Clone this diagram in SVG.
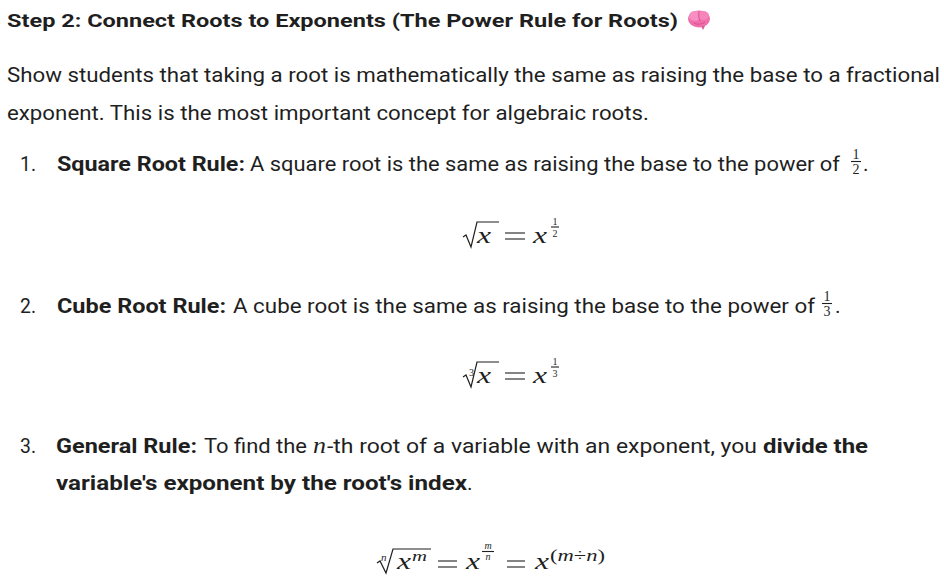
<svg xmlns="http://www.w3.org/2000/svg" width="944" height="586" viewBox="0 0 944 586">
<style>
text{fill:#1f1f1f}
.t{font-family:Roboto,"Liberation Sans",sans-serif;font-size:21px}
.b{font-family:Roboto,"Liberation Sans",sans-serif;font-size:21px;font-weight:700}
.h{font-family:Roboto,"Liberation Sans",sans-serif;font-size:19px;font-weight:700}
.mi{font-family:"Liberation Serif","DejaVu Serif",serif;font-style:italic;font-size:24px}
.mis{font-family:"Liberation Serif","DejaVu Serif",serif;font-style:italic}
.mn{font-family:"Liberation Serif","DejaVu Serif",serif;font-size:14px}
.ms{font-family:"Liberation Serif","DejaVu Serif",serif;font-size:10px}
.ln{stroke:#1f1f1f;stroke-width:1.1;fill:none}
.rad{stroke:#1f1f1f;stroke-width:1.2;fill:none;stroke-linejoin:miter}
</style>
<rect width="944" height="586" fill="#ffffff"/>

<g id="title">
<text class="h" x="7" y="27" textLength="671" lengthAdjust="spacingAndGlyphs">Step 2: Connect Roots to Exponents (The Power Rule for Roots)</text>
<g id="brain-emoji">
<ellipse cx="699" cy="19" rx="11" ry="8.5" fill="#f06eaa"/>
<ellipse cx="695" cy="16" rx="6" ry="5" fill="#f78fc3"/>
<ellipse cx="703" cy="15.5" rx="6" ry="4.5" fill="#f585bb"/>
<path d="M694,23 Q699,26 705,22" stroke="#d94f91" stroke-width="1" fill="none"/>
<path d="M699,12 Q698,17 700,21" stroke="#d94f91" stroke-width="0.9" fill="none"/>
<path d="M701,26 L703,30 L705,26 Z" fill="#e05a9c"/>
</g>
</g>

<g id="intro">
<text class="t" x="7" y="82" textLength="933" lengthAdjust="spacingAndGlyphs">Show students that taking a root is mathematically the same as raising the base to a fractional</text>
<text class="t" x="7" y="120" textLength="642" lengthAdjust="spacingAndGlyphs">exponent. This is the most important concept for algebraic roots.</text>
</g>

<g id="item-1">
<text class="t" x="20" y="171" textLength="16" lengthAdjust="spacingAndGlyphs">1.</text>
<text class="b" x="57" y="171" textLength="188" lengthAdjust="spacingAndGlyphs">Square Root Rule:</text>
<text class="t" x="250" y="171" textLength="590" lengthAdjust="spacingAndGlyphs">A square root is the same as raising the base to the power of</text>
<text class="mn" x="856" y="159" text-anchor="middle">1</text>
<line class="ln" x1="851" y1="161.5" x2="861" y2="161.5"/>
<text class="mn" x="856" y="174" text-anchor="middle">2</text>
<text class="t" x="863" y="171">.</text>
</g>

<g id="formula-1">
<path class="rad" d="M463,237 L466,235 L471,247 L477,222 L499,222"/>
<text class="mi" x="477" y="243" textLength="14" lengthAdjust="spacingAndGlyphs">x</text>
<line class="ln" x1="505" y1="233" x2="525" y2="233"/>
<line class="ln" x1="505" y1="239" x2="525" y2="239"/>
<text class="mi" x="533" y="243" textLength="14" lengthAdjust="spacingAndGlyphs">x</text>
<text class="ms" x="555" y="224.5" text-anchor="middle">1</text>
<line class="ln" x1="551" y1="227" x2="559" y2="227"/>
<text class="ms" x="555" y="236.5" text-anchor="middle">2</text>
</g>

<g id="item-2">
<text class="t" x="20" y="313" textLength="16" lengthAdjust="spacingAndGlyphs">2.</text>
<text class="b" x="57" y="313" textLength="169" lengthAdjust="spacingAndGlyphs">Cube Root Rule:</text>
<text class="t" x="233" y="313" textLength="582" lengthAdjust="spacingAndGlyphs">A cube root is the same as raising the base to the power of</text>
<text class="mn" x="827" y="301" text-anchor="middle">1</text>
<line class="ln" x1="822" y1="303.5" x2="832" y2="303.5"/>
<text class="mn" x="827" y="316" text-anchor="middle">3</text>
<text class="t" x="835" y="313">.</text>
</g>

<g id="formula-2">
<text class="ms" x="469" y="376">3</text>
<path class="rad" d="M463,377 L466,375 L471,387 L477,362 L499,362"/>
<text class="mi" x="477" y="383" textLength="14" lengthAdjust="spacingAndGlyphs">x</text>
<line class="ln" x1="505" y1="373" x2="525" y2="373"/>
<line class="ln" x1="505" y1="379" x2="525" y2="379"/>
<text class="mi" x="533" y="383" textLength="14" lengthAdjust="spacingAndGlyphs">x</text>
<text class="ms" x="555" y="364.5" text-anchor="middle">1</text>
<line class="ln" x1="551" y1="367" x2="559" y2="367"/>
<text class="ms" x="555" y="376.5" text-anchor="middle">3</text>
</g>

<g id="item-3">
<text class="t" x="20" y="453" textLength="16" lengthAdjust="spacingAndGlyphs">3.</text>
<text class="b" x="56" y="453" textLength="141" lengthAdjust="spacingAndGlyphs">General Rule:</text>
<text class="t" x="204" y="453" textLength="103" lengthAdjust="spacingAndGlyphs">To find the</text>
<text class="mis" x="313" y="453" font-size="23" textLength="13" lengthAdjust="spacingAndGlyphs">n</text>
<text class="t" x="327" y="453" textLength="430" lengthAdjust="spacingAndGlyphs">-th root of a variable with an exponent, you</text>
<text class="b" x="763" y="453" textLength="105" lengthAdjust="spacingAndGlyphs">divide the</text>
<text class="b" x="56" y="490" textLength="411" lengthAdjust="spacingAndGlyphs">variable's exponent by the root's index</text>
<text class="t" x="467" y="490">.</text>
</g>

<g id="formula-3">
<text class="mis" x="381" y="561" font-size="11">n</text>
<path class="rad" d="M377,563 L380,561 L386,573 L393,549 L431,549"/>
<text class="mi" x="397" y="569" textLength="14" lengthAdjust="spacingAndGlyphs">x</text>
<text class="mis" x="412" y="561" font-size="15" textLength="15" lengthAdjust="spacingAndGlyphs">m</text>
<line class="ln" x1="438" y1="561" x2="457" y2="561"/>
<line class="ln" x1="438" y1="567" x2="457" y2="567"/>
<text class="mi" x="466" y="569" textLength="14" lengthAdjust="spacingAndGlyphs">x</text>
<text class="mis" x="488" y="549" font-size="10" text-anchor="middle">m</text>
<line class="ln" x1="482" y1="551.5" x2="494" y2="551.5"/>
<text class="mis" x="488" y="560" font-size="10" text-anchor="middle">n</text>
<line class="ln" x1="507" y1="561" x2="525" y2="561"/>
<line class="ln" x1="507" y1="567" x2="525" y2="567"/>
<text class="mi" x="535" y="569" textLength="14" lengthAdjust="spacingAndGlyphs">x</text>
<text x="550" y="561" font-size="16" font-family="'Liberation Serif','DejaVu Serif',serif" textLength="55" lengthAdjust="spacingAndGlyphs">(<tspan font-style="italic">m</tspan>÷<tspan font-style="italic">n</tspan>)</text>
</g>
</svg>
